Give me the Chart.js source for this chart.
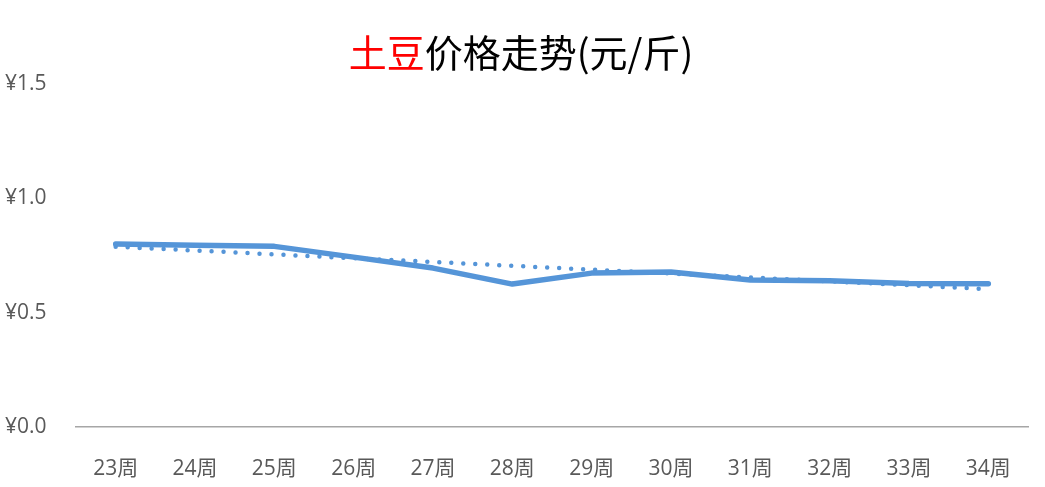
<!DOCTYPE html>
<html>
<head>
<meta charset="utf-8">
<script src="https://cdn.jsdelivr.net/npm/chart.js@4/dist/chart.umd.min.js"></script>
<style>
  html, body { margin: 0; padding: 0; background: #fff; }
  #wrap { width: 1045px; height: 487px; position: relative; }
</style>
</head>
<body>
<div id="wrap"><canvas id="myChart"></canvas></div>
<script>
// data
const weeks = ['23周', '24周', '25周', '26周', '27周', '28周', '29周', '30周', '31周', '32周', '33周', '34周'];
const prices = [0.80, 0.795, 0.79, 0.743, 0.695, 0.625, 0.673, 0.678, 0.643, 0.64, 0.628, 0.627];
const trend = [0.788, 0.772, 0.755, 0.738, 0.722, 0.705, 0.688, 0.671, 0.654, 0.637, 0.620, 0.603];
const yTicks = [0, 0.5, 1.0, 1.5];

const titleRed = '土豆';
const titleRest = '价格走势(元/斤)';

const blue = '#5595d8';
const tickFont = { family: "'Open Sans', 'Noto Sans CJK SC', sans-serif", size: 21 };

// title with two colours, drawn on the canvas
const twoColourTitle = {
    id: 'twoColourTitle',
    afterDraw(chart) {
        let ctx = chart.ctx;
        ctx.save();
        ctx.font = "38px 'Noto Sans CJK SC', sans-serif";
        ctx.textBaseline = 'middle';
        let w1 = ctx.measureText(titleRed).width;
        let w2 = ctx.measureText(titleRest).width;
        let x = 521 - (w1 + w2) / 2;
        ctx.fillStyle = '#ff0000';
        ctx.fillText(titleRed, x, 53);
        ctx.fillStyle = '#000000';
        ctx.fillText(titleRest, x + w1, 53);
        ctx.restore();
    }
};

let ctx = document.getElementById('myChart').getContext('2d');
let config = {
    type: 'line',
    data: {
        labels: weeks,
        datasets: [
            {
                data: prices,
                borderColor: blue,
                borderWidth: 5.5,
                pointRadius: 0,
                tension: 0,
                borderJoinStyle: 'round',
                borderCapStyle: 'round'
            },
            {
                data: trend,
                borderColor: blue,
                borderWidth: 4.5,
                borderDash: [0, 12],
                borderCapStyle: 'round',
                pointRadius: 0,
                tension: 0
            }
        ]
    },
    options: {
        responsive: true,
        maintainAspectRatio: false,
        animation: false,
        layout: { padding: { top: 84, left: 5, right: 17, bottom: 0 } },
        plugins: {
            legend: { display: false },
            title: { display: false },
            tooltip: { enabled: false }
        },
        scales: {
            x: {
                offset: true,
                grid: { display: false },
                border: { display: true, color: '#a6a6a6', width: 1.5 },
                ticks: { color: '#595959', font: tickFont, padding: 21, maxRotation: 0, autoSkip: false },
                afterFit: function (scale) { scale.height = 60; }
            },
            y: {
                min: 0,
                max: 1.5,
                grid: { display: false },
                border: { display: false },
                afterBuildTicks: function (scale) {
                    scale.ticks = yTicks.map(v => ({ value: v }));
                },
                ticks: {
                    color: '#595959',
                    font: tickFont,
                    crossAlign: 'far',
                    callback: function (v) { return '¥' + Number(v).toFixed(1); }
                },
                afterFit: function (scale) { scale.width = 71; }
            }
        }
    },
    plugins: [twoColourTitle]
};
window.myLine = new Chart(ctx, config);
</script>
</body>
</html>
